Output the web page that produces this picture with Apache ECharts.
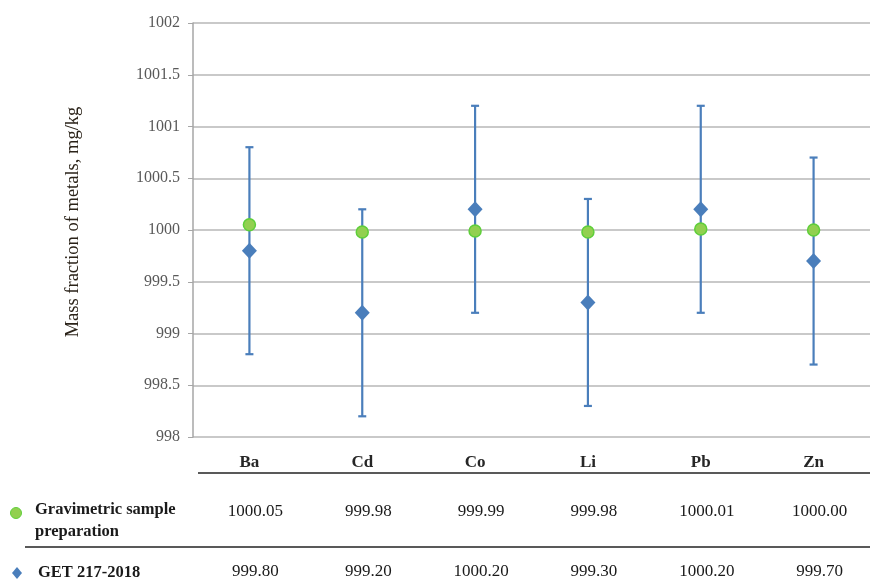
<!DOCTYPE html>
<html>
<head>
<meta charset="utf-8">
<script src="https://cdn.jsdelivr.net/npm/echarts@6/dist/echarts.min.js"></script>
<style>html,body{margin:0;padding:0;background:#fff}#c{width:870px;height:580px}</style>
</head>
<body>
<div id="c"></div>
<script>
var categories = ['Ba', 'Cd', 'Co', 'Li', 'Pb', 'Zn'];
var gravimetric = [1000.05, 999.98, 999.99, 999.98, 1000.01, 1000.00];
var gravimetricText = ['1000.05', '999.98', '999.99', '999.98', '1000.01', '1000.00'];
var getValues = [999.80, 999.20, 1000.20, 999.30, 1000.20, 999.70];
var getText = ['999.80', '999.20', '1000.20', '999.30', '1000.20', '999.70'];
var getLow = [998.80, 998.20, 999.20, 998.30, 999.20, 998.70];
var getHigh = [1000.80, 1000.20, 1001.20, 1000.30, 1001.20, 1000.70];
var seriesNames = ['Gravimetric sample\npreparation', 'GET 217-2018'];
var yAxisTitle = 'Mass fraction of metals, mg/kg';

var serif = '"Liberation Serif", "DejaVu Serif", serif';
var chart = echarts.init(document.getElementById('c'));

var errData = categories.map(function (c, i) { return [i, getLow[i], getHigh[i]]; });

var option = {
  animation: false,
  grid: { left: 193, top: 23, width: 684, height: 414, containLabel: false },
  xAxis: {
    type: 'category',
    data: categories,
    axisLine: { show: false },
    axisTick: { show: false },
    splitLine: { show: false },
    axisLabel: {
      margin: 17,
      fontFamily: serif,
      fontSize: 17,
      fontWeight: 'bold',
      color: '#262626'
    }
  },
  yAxis: {
    type: 'value',
    min: 998,
    max: 1002,
    interval: 0.5,
    axisLine: { show: true, lineStyle: { color: '#a6a6a6', width: 1.5 } },
    axisTick: { show: true, length: 5, lineStyle: { color: '#a6a6a6', width: 1 } },
    axisLabel: {
      margin: 13, fontFamily: serif, fontSize: 16, color: '#595959',
      formatter: function (v) { return String(Math.round(v * 10) / 10); }
    },
    splitLine: { show: true, lineStyle: { color: '#b7b7b7', width: 1.5 } }
  },
  series: [
    {
      type: 'custom',
      name: 'err',
      data: errData,
      z: 2,
      renderItem: function (params, api) {
        var x = api.value(0);
        var lo = api.coord([x, api.value(1)]);
        var hi = api.coord([x, api.value(2)]);
        var cap = 4;
        var st = { stroke: '#4a7ebb', lineWidth: 2.2 };
        return {
          type: 'group',
          children: [
            { type: 'line', shape: { x1: lo[0], y1: lo[1], x2: hi[0], y2: hi[1] }, style: st },
            { type: 'line', shape: { x1: lo[0] - cap, y1: lo[1], x2: lo[0] + cap, y2: lo[1] }, style: st },
            { type: 'line', shape: { x1: hi[0] - cap, y1: hi[1], x2: hi[0] + cap, y2: hi[1] }, style: st }
          ]
        };
      }
    },
    {
      type: 'scatter',
      name: 'GET 217-2018',
      data: getValues,
      symbol: 'diamond',
      symbolSize: [15, 16],
      z: 3,
      itemStyle: { color: '#4a7ebb', opacity: 1 }
    },
    {
      type: 'scatter',
      name: 'Gravimetric',
      data: gravimetric,
      symbol: 'circle',
      symbolSize: 12,
      z: 4,
      itemStyle: { color: '#92d050', borderColor: '#5fcf3a', borderWidth: 1.5, opacity: 1 }
    }
  ]
};
chart.setOption(option);

var g = [];
g.push({ type: 'text', x: 73, y: 222, rotation: Math.PI / 2, style: { text: yAxisTitle, fontFamily: serif, fontSize: 18.5, fill: '#2a2218', textAlign: 'center', textVerticalAlign: 'middle' } });
g.push({ type: 'line', shape: { x1: 198, y1: 473, x2: 870, y2: 473 }, style: { stroke: '#595959', lineWidth: 2 } });
g.push({ type: 'line', shape: { x1: 25, y1: 547, x2: 870, y2: 547 }, style: { stroke: '#595959', lineWidth: 2 } });
g.push({ type: 'circle', shape: { cx: 16, cy: 513, r: 5.5 }, style: { fill: '#92d050', stroke: '#5fcf3a', lineWidth: 1 } });
g.push({ type: 'polygon', shape: { points: [[17, 567], [22, 573], [17, 579], [12, 573]] }, style: { fill: '#4a7ebb' } });
g.push({ type: 'text', x: 35, y: 521, style: { text: seriesNames[0], fontFamily: serif, fontSize: 16.5, fontWeight: 'bold', fill: '#1a1a1a', textAlign: 'left', textVerticalAlign: 'middle', lineHeight: 22 } });
g.push({ type: 'text', x: 38, y: 573, style: { text: seriesNames[1], fontFamily: serif, fontSize: 16.5, fontWeight: 'bold', fill: '#1a1a1a', textAlign: 'left', textVerticalAlign: 'middle' } });
categories.forEach(function (c, i) {
  var px = chart.convertToPixel({ xAxisIndex: 0 }, i) + 6;
  g.push({ type: 'text', x: px, y: 512, style: { text: gravimetricText[i], fontFamily: serif, fontSize: 17, fill: '#1a1a1a', textAlign: 'center', textVerticalAlign: 'middle' } });
  g.push({ type: 'text', x: px, y: 572, style: { text: getText[i], fontFamily: serif, fontSize: 17, fill: '#1a1a1a', textAlign: 'center', textVerticalAlign: 'middle' } });
});
chart.setOption({ graphic: { elements: g } });
</script>
</body>
</html>
